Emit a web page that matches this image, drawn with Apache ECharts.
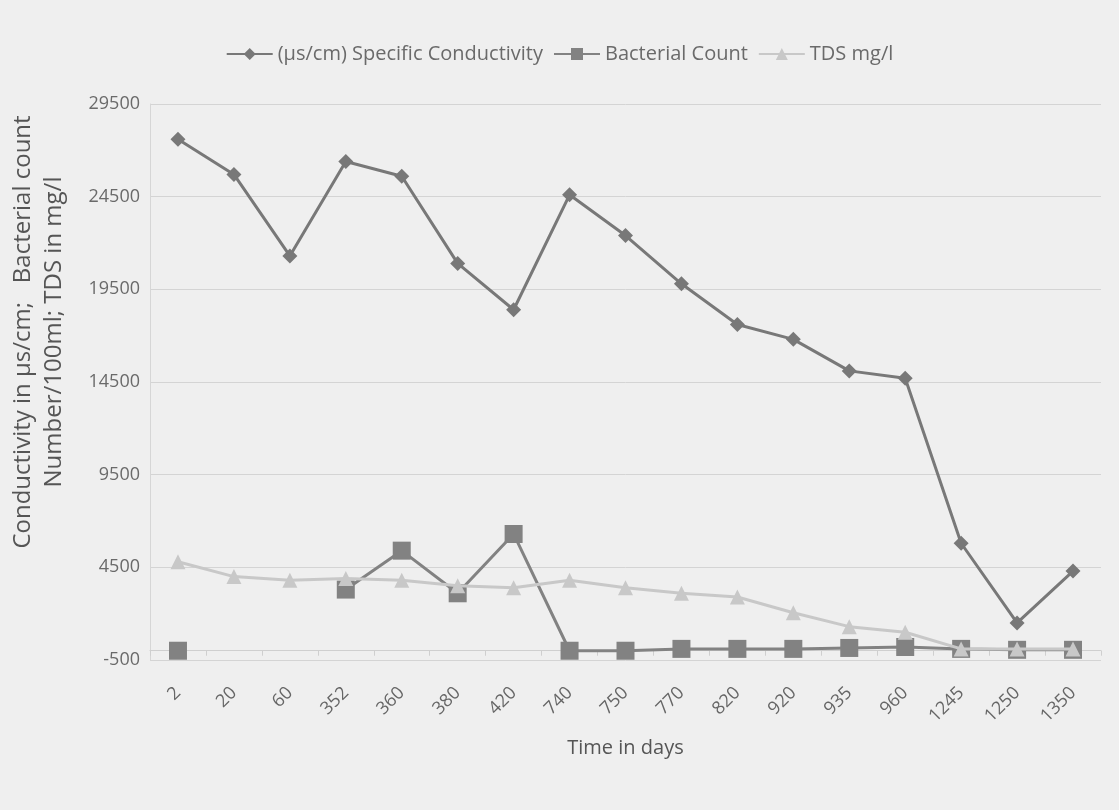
<!DOCTYPE html>
<html>
<head>
<meta charset="utf-8">
<script src="https://cdn.jsdelivr.net/npm/echarts@6/dist/echarts.min.js"></script>
<style>
  html, body { margin: 0; padding: 0; background: #efefef; }
  #chart { width: 1119px; height: 810px; }
</style>
</head>
<body>
<div id="chart"></div>
<script>
const days = ['2', '20', '60', '352', '360', '380', '420', '740', '750', '770', '820', '920', '935', '960', '1245', '1250', '1350'];
const conductivity = [27600, 25700, 21300, 26400, 25600, 20900, 18400, 24600, 22400, 19800, 17600, 16800, 15100, 14700, 5800, 1500, 4300];
const bacterial = [0, null, null, 3300, 5400, 3100, 6300, 0, 0, 100, 100, 100, 150, 200, 100, 50, 50];
const tds = [4800, 4000, 3800, 3900, 3800, 3500, 3400, 3800, 3400, 3100, 2900, 2050, 1300, 1000, 100, 100, 100];
const yTicks = { min: -500, max: 29500, step: 5000 };

const font = '"Open Sans", "Noto Sans", sans-serif';
const chart = echarts.init(document.getElementById('chart'));

const option = {
  backgroundColor: '#efefef',
  textStyle: { fontFamily: font },
  legend: {
    top: 39,
    left: 'center',
    itemWidth: 46,
    itemHeight: 15,
    itemGap: 10,
    textStyle: { fontSize: 20, color: '#6a6a6a', fontFamily: font },
    data: ['(µs/cm) Specific Conductivity', 'Bacterial Count', 'TDS mg/l']
  },
  grid: { left: 147, right: 18, top: 104, bottom: 150 },
  xAxis: {
    type: 'category',
    data: days,
    boundaryGap: true,
    name: 'Time in days',
    nameLocation: 'middle',
    nameGap: 78,
    nameTextStyle: { fontSize: 20, color: '#555', fontFamily: font },
    axisLine: { lineStyle: { color: '#cfcfcf' } },
    axisTick: { show: true, lineStyle: { color: '#cfcfcf' } },
    axisLabel: { rotate: 45, fontSize: 18, color: '#666', margin: 30, fontFamily: font }
  },
  yAxis: {
    type: 'value',
    min: yTicks.min,
    max: yTicks.max,
    interval: yTicks.step,
    name: 'Conductivity in µs/cm;   Bacterial count\nNumber/100ml; TDS in mg/l',
    nameLocation: 'middle',
    nameRotate: 90,
    nameGap: 80,
    nameTextStyle: { fontSize: 24, color: '#555', lineHeight: 31, fontFamily: font, padding: [0, 0, 0, 100] },
    axisLine: { show: true, lineStyle: { color: '#d6d6d6' } },
    axisTick: { show: false },
    axisLabel: { fontSize: 18, color: '#6a6a6a', margin: 10, fontFamily: font, formatter: function (v) { return String(v); } },
    splitLine: { lineStyle: { color: '#d4d4d4' } }
  },
  series: [
    {
      name: '(µs/cm) Specific Conductivity',
      type: 'line',
      data: conductivity,
      symbol: 'diamond',
      symbolSize: 15,
      showAllSymbol: true,
      color: '#787878',
      lineStyle: { width: 3, color: '#787878' },
      itemStyle: { color: '#787878' },
      z: 3
    },
    {
      name: 'Bacterial Count',
      type: 'line',
      data: bacterial,
      symbol: 'rect',
      symbolSize: 18,
      showAllSymbol: true,
      connectNulls: false,
      color: '#828282',
      lineStyle: { width: 3, color: '#828282' },
      itemStyle: { color: '#828282' },
      z: 2
    },
    {
      name: 'TDS mg/l',
      type: 'line',
      data: tds,
      symbol: 'triangle',
      symbolSize: 15,
      showAllSymbol: true,
      color: '#c8c8c8',
      lineStyle: { width: 3, color: '#c8c8c8' },
      itemStyle: { color: '#c8c8c8' },
      z: 4
    }
  ]
};

chart.setOption(option);
</script>
</body>
</html>
